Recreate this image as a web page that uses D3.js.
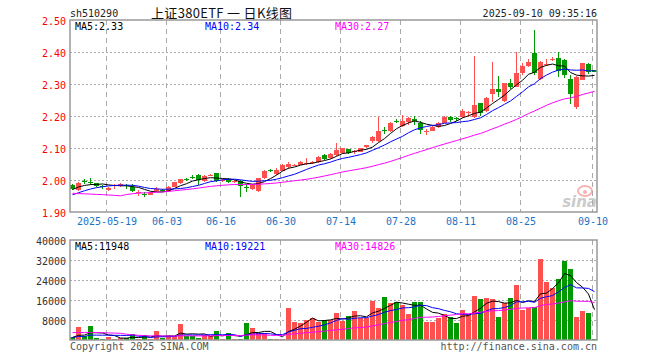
<!DOCTYPE html>
<html>
<head>
<meta charset="utf-8">
<script src="https://cdn.jsdelivr.net/npm/d3@7"></script>
<style>
  body { margin: 0; background: #fff; }
  text { font-family: 'DejaVu Sans Mono', monospace; font-size: 10px; }
</style>
</head>
<body>
<div id="chart"></div>
<script>
// trading days shown on the chart
var dates = [
  '2025-05-09',
  '2025-05-12','2025-05-13','2025-05-14','2025-05-15','2025-05-16',
  '2025-05-19','2025-05-20','2025-05-21','2025-05-22','2025-05-23',
  '2025-05-26','2025-05-27','2025-05-28','2025-05-29','2025-05-30',
  '2025-06-03','2025-06-04','2025-06-05','2025-06-06',
  '2025-06-09','2025-06-10','2025-06-11','2025-06-12','2025-06-13',
  '2025-06-16','2025-06-17','2025-06-18','2025-06-19','2025-06-20',
  '2025-06-23','2025-06-24','2025-06-25','2025-06-26','2025-06-27',
  '2025-06-30','2025-07-01','2025-07-02','2025-07-03','2025-07-04',
  '2025-07-07','2025-07-08','2025-07-09','2025-07-10','2025-07-11',
  '2025-07-14','2025-07-15','2025-07-16','2025-07-17','2025-07-18',
  '2025-07-21','2025-07-22','2025-07-23','2025-07-24','2025-07-25',
  '2025-07-28','2025-07-29','2025-07-30','2025-07-31','2025-08-01',
  '2025-08-04','2025-08-05','2025-08-06','2025-08-07','2025-08-08',
  '2025-08-11','2025-08-12','2025-08-13','2025-08-14','2025-08-15',
  '2025-08-18','2025-08-19','2025-08-20','2025-08-21','2025-08-22',
  '2025-08-25','2025-08-26','2025-08-27','2025-08-28','2025-08-29',
  '2025-09-01','2025-09-02','2025-09-03','2025-09-04','2025-09-05',
  '2025-09-08','2025-09-09','2025-09-10'
];

var open = [1.984,1.969,1.996,1.995,1.990,1.981,1.969,1.982,1.980,1.983,
  1.977,1.962,1.955,1.954,1.967,1.968,1.967,1.979,1.990,2.004,
  2.009,2.016,1.998,2.013,2.022,1.998,2.004,1.994,1.997,1.978,
  1.971,1.966,2.005,2.030,2.020,2.029,2.040,2.045,2.048,2.050,
  2.052,2.056,2.077,2.068,2.078,2.083,2.096,2.088,2.089,2.104,
  2.121,2.122,2.155,2.153,2.184,2.169,2.181,2.192,2.179,2.151,
  2.154,2.165,2.179,2.198,2.193,2.197,2.211,2.196,2.240,2.217,
  2.269,2.284,2.247,2.304,2.292,2.333,2.356,2.398,2.315,2.362,
  2.375,2.380,2.375,2.315,2.227,2.313,2.362,2.344];
var high = [1.986,1.995,2.004,2.006,1.991,1.984,1.979,1.987,1.991,1.987,
  1.986,1.969,1.961,1.962,1.979,1.972,1.982,1.995,2.004,2.007,
  2.016,2.018,2.016,2.019,2.023,2.004,2.006,2.001,1.999,1.987,
  1.987,2.007,2.030,2.034,2.036,2.050,2.057,2.051,2.059,2.068,
  2.058,2.075,2.080,2.085,2.117,2.101,2.098,2.094,2.101,2.110,
  2.138,2.198,2.166,2.181,2.190,2.203,2.196,2.200,2.185,2.160,
  2.168,2.180,2.199,2.201,2.197,2.222,2.216,2.387,2.242,2.258,
  2.369,2.325,2.304,2.315,2.400,2.365,2.377,2.469,2.371,2.377,
  2.383,2.400,2.377,2.328,2.325,2.367,2.366,2.345];
var low = [1.968,1.966,1.989,1.984,1.979,1.971,1.966,1.972,1.978,1.973,
  1.962,1.951,1.947,1.952,1.963,1.962,1.964,1.977,1.988,1.998,
  2.002,1.984,1.995,2.011,1.995,1.993,1.992,1.990,1.948,1.964,
  1.968,1.964,2.003,2.024,2.016,2.027,2.033,2.043,2.046,2.048,
  2.050,2.054,2.064,2.065,2.076,2.081,2.081,2.082,2.087,2.101,
  2.117,2.120,2.144,2.151,2.178,2.166,2.172,2.172,2.144,2.140,
  2.152,2.163,2.177,2.180,2.185,2.195,2.198,2.193,2.200,2.214,
  2.244,2.258,2.245,2.283,2.290,2.328,2.352,2.328,2.312,2.356,
  2.372,2.321,2.318,2.237,2.222,2.311,2.331,2.338];
var close = [1.971,1.990,1.994,1.993,1.982,1.979,1.976,1.984,1.989,1.981,
  1.966,1.964,1.953,1.960,1.971,1.966,1.979,1.993,2.002,2.002,
  2.007,2.000,2.012,2.015,1.997,1.999,1.995,1.997,1.981,1.977,
  1.984,2.005,2.028,2.028,2.031,2.047,2.050,2.047,2.057,2.052,
  2.055,2.073,2.067,2.081,2.094,2.099,2.083,2.090,2.099,2.108,
  2.134,2.153,2.153,2.179,2.182,2.184,2.194,2.184,2.157,2.153,
  2.166,2.178,2.197,2.189,2.191,2.215,2.212,2.234,2.208,2.256,
  2.285,2.275,2.302,2.292,2.333,2.356,2.369,2.333,2.369,2.364,
  2.377,2.342,2.328,2.269,2.323,2.365,2.339,2.339];
var volume = [1070,5200,1730,5600,950,550,1200,550,700,700,
  2270,550,2000,400,3600,900,1500,1500,6400,1500,
  1500,800,2000,1600,3600,400,2800,400,400,6800,
  4670,2670,2670,400,400,500,12930,7330,6670,8000,
  8940,7330,8000,8000,10940,7600,9740,11600,8670,8670,
  15600,12930,17330,14670,15070,14000,10530,15070,15070,7330,
  7330,8940,10300,9330,6930,12000,10270,17740,16400,16940,
  16400,9330,14670,16940,22000,12000,12670,13330,32400,23330,
  20930,24400,31730,28530,9330,11600,10800,400];

// 29 sessions before the window, only needed so the averages start at the left edge
var prevClose = [2.02,2.01,2.02,2.01,2.00,2.01,2.02,2.03,
  1.86,1.89,1.91,1.93,1.93,1.94,1.94,1.93,1.93,1.94,1.95,1.94,
  1.93,1.93,1.94,1.94,1.95,1.95,1.97,1.98,1.98];
var prevVolume = [3000,3000,3000,3000,3000,3000,3000,3000,
  12000,9000,7000,5000,4000,2500,2500,2500,2500,2500,2500,2500,
  1000,900,900,800,900,1000,1200,1000,900];

var tickDates = ['2025-05-19','2025-06-03','2025-06-16','2025-06-30','2025-07-14',
  '2025-07-28','2025-08-11','2025-08-25','2025-09-10'];
var priceTicks = [1.90,2.00,2.10,2.20,2.30,2.40,2.50];
var volTicks = [8000,16000,24000,32000,40000];
var priceMaText = ['MA5:2.33','MA10:2.34','MA30:2.27'];
var volMaText = ['MA5:11948','MA10:19221','MA30:14826'];
var maColors = ['#000000','#0000ff','#ff00ff'];
var maPeriods = [5,10,30];

var w = 660, h = 360;
var left = 70, right = 597;
var red = '#ff5050', green = '#009900';

var svg = d3.select('#chart').append('svg')
  .attr('width', w)
  .attr('height', h)
  .style('background', '#fff');

var x = d3.scaleBand()
  .domain(d3.range(dates.length))
  .range([69, 69 + 6 * dates.length])
  .padding(0);

var y = d3.scaleLinear().domain([1.90, 2.50]).range([212, 20]);
var yv = d3.scaleLinear().domain([0, 40000]).range([340, 240]);

function ma(series, prev, n) {
  var all = prev.concat(series);
  return series.map(function (d, i) {
    var k = i + prev.length;
    return d3.mean(all.slice(k - n + 1, k + 1));
  });
}

function isUp(i) { return close[i] >= open[i]; }

/* header */

svg.append('text').text('sh510290')
  .attr('x', 70).attr('y', 17).attr('fill', '#222');

svg.append('text').text('上证380ETF 一 日K线图')
  .attr('x', 151).attr('y', 18)
  .attr('textLength', 141).attr('lengthAdjust', 'spacing')
  .style('white-space', 'pre')
  .style('font-family', "'Noto Sans CJK SC', sans-serif")
  .style('font-size', '13px')
  .attr('fill', '#111');

svg.append('text').text('2025-09-10 09:35:16')
  .attr('x', 597).attr('y', 17)
  .attr('text-anchor', 'end').attr('fill', '#222');

/* grids for both panels */

function grid(yScale, ticks, top, bottom) {
  svg.append('g').selectAll('line')
    .data(ticks)
    .enter().append('line')
    .attr('x1', left).attr('x2', right)
    .attr('y1', function (d) { return Math.round(yScale(d)) + 0.5; })
    .attr('y2', function (d) { return Math.round(yScale(d)) + 0.5; })
    .style('stroke', '#aaa')
    .style('stroke-dasharray', '2,2');

  svg.append('g').selectAll('line')
    .data(tickDates)
    .enter().append('line')
    .attr('x1', function (d) { return x(dates.indexOf(d)) + 1.5; })
    .attr('x2', function (d) { return x(dates.indexOf(d)) + 1.5; })
    .attr('y1', top).attr('y2', bottom)
    .style('stroke', '#aaa')
    .style('stroke-dasharray', '5,4');
}

grid(y, priceTicks.slice(1, -1), 20, 212);
grid(yv, volTicks.slice(0, -1), 240, 340);

/* watermark */

var wm = svg.append('g').attr('opacity', 0.6);
wm.append('ellipse').attr('cx', 585).attr('cy', 191).attr('rx', 7).attr('ry', 5)
  .style('fill', 'none').style('stroke', '#f08080').style('stroke-width', 2);
wm.append('circle').attr('cx', 585).attr('cy', 192).attr('r', 2).style('fill', '#f08080');
wm.append('text').text('sina')
  .attr('x', 597).attr('y', 207).attr('text-anchor', 'end')
  .style('font-family', "'DejaVu Sans', sans-serif")
  .style('font-size', '15px').style('font-weight', 'bold').style('font-style', 'italic')
  .attr('fill', '#aaa');

/* candles */

var candles = svg.append('g').attr('shape-rendering', 'crispEdges');

candles.selectAll('.wick')
  .data(dates)
  .enter().append('line')
  .attr('class', 'wick')
  .attr('x1', function (d, i) { return x(i) + 3.5; })
  .attr('x2', function (d, i) { return x(i) + 3.5; })
  .attr('y1', function (d, i) { return y(high[i]); })
  .attr('y2', function (d, i) { return y(low[i]); })
  .style('stroke', function (d, i) { return isUp(i) ? red : green; });

candles.selectAll('.body')
  .data(dates)
  .enter().append('rect')
  .attr('class', 'body')
  .attr('x', function (d, i) { return x(i) + 1; })
  .attr('width', 5)
  .attr('y', function (d, i) { return y(Math.max(open[i], close[i])); })
  .attr('height', function (d, i) {
    return Math.max(1, Math.abs(y(open[i]) - y(close[i])));
  })
  .style('fill', function (d, i) { return isUp(i) ? red : green; });

/* volume bars */

svg.append('g').attr('shape-rendering', 'crispEdges')
  .selectAll('rect')
  .data(volume)
  .enter().append('rect')
  .attr('x', function (d, i) { return x(i) + 1; })
  .attr('width', 5)
  .attr('y', function (d) { return yv(d); })
  .attr('height', function (d) { return 340 - yv(d); })
  .style('fill', function (d, i) { return isUp(i) ? red : green; });

/* moving averages */

maPeriods.forEach(function (n, k) {
  var pm = ma(close, prevClose, n);
  var vm = ma(volume, prevVolume, n);
  var line = function (scale) {
    return d3.line()
      .x(function (d, i) { return x(i) + 3.5; })
      .y(function (d) { return scale(d); });
  };
  svg.append('path').datum(pm)
    .attr('d', line(y))
    .style('fill', 'none').style('stroke', maColors[k]).style('stroke-width', 1);
  svg.append('path').datum(vm)
    .attr('d', line(yv))
    .style('fill', 'none').style('stroke', maColors[k]).style('stroke-width', 1);
});

/* legends */

var legendX = [75, 205, 335];
svg.append('g').selectAll('text')
  .data(priceMaText)
  .enter().append('text')
  .text(function (d) { return d; })
  .attr('x', function (d, i) { return legendX[i]; })
  .attr('y', 30)
  .attr('fill', function (d, i) { return maColors[i]; });

svg.append('g').selectAll('text')
  .data(volMaText)
  .enter().append('text')
  .text(function (d) { return d; })
  .attr('x', function (d, i) { return legendX[i]; })
  .attr('y', 250)
  .attr('fill', function (d, i) { return maColors[i]; });

/* axes */

var yAxis = d3.axisLeft(y).tickValues(priceTicks).tickSize(0).tickPadding(4)
  .tickFormat(d3.format('.2f'));
var ga = svg.append('g').attr('transform', 'translate(' + left + ',1)').call(yAxis);
ga.select('.domain').remove();
ga.selectAll('text').attr('fill', '#ff0000')
  .style('font-family', "'DejaVu Sans Mono', monospace").style('font-size', '10px');

var vAxis = d3.axisLeft(yv).tickValues(volTicks).tickSize(0).tickPadding(4)
  .tickFormat(d3.format('d'));
var gv = svg.append('g').attr('transform', 'translate(' + left + ',1)').call(vAxis);
gv.select('.domain').remove();
gv.selectAll('text').attr('fill', '#333')
  .style('font-family', "'DejaVu Sans Mono', monospace").style('font-size', '10px');

svg.append('g').selectAll('text')
  .data(tickDates)
  .enter().append('text')
  .text(function (d, i) { return i === 0 ? d : d.slice(5); })
  .attr('x', function (d) { return x(dates.indexOf(d)) + 2; })
  .attr('y', 225)
  .attr('text-anchor', 'middle')
  .attr('fill', '#1a73c8');

/* frames */

svg.append('rect').attr('x', left).attr('y', 20).attr('width', right - left).attr('height', 192)
  .style('fill', 'none').style('stroke', '#999').style('stroke-width', 1.5);
svg.append('rect').attr('x', left).attr('y', 240).attr('width', right - left).attr('height', 100)
  .style('fill', 'none').style('stroke', '#999').style('stroke-width', 1.5);

/* footer */

svg.append('text').text('Copyright 2025 SINA.COM')
  .attr('x', 70).attr('y', 350).attr('fill', '#555');
svg.append('text').text('http://finance.sina.com.cn')
  .attr('x', 597).attr('y', 350).attr('text-anchor', 'end').attr('fill', '#555');
</script>
</body>
</html>
